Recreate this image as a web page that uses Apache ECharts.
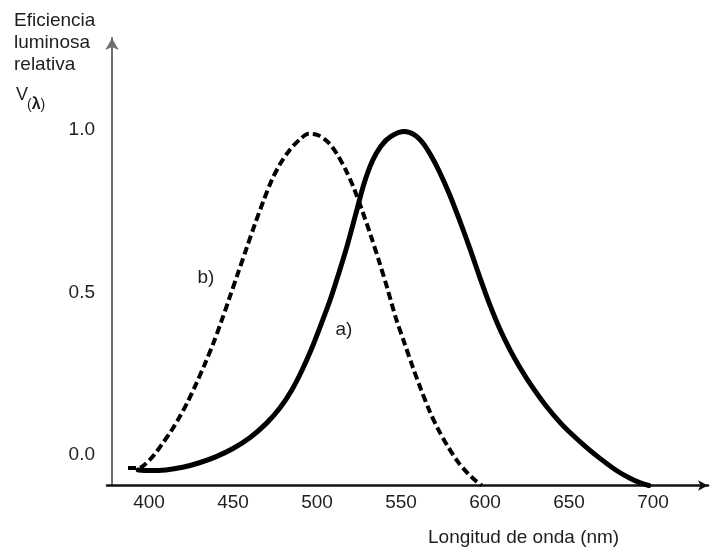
<!DOCTYPE html>
<html>
<head>
<meta charset="utf-8">
<script src="https://cdn.jsdelivr.net/npm/echarts@6/dist/echarts.min.js"></script>
<style>
html,body{margin:0;padding:0;background:#fff;}
#chart{width:715px;height:552px;}
</style>
</head>
<body>
<div id="chart"></div>
<script>
// curve a) photopic (solid): wavelength (nm) and relative luminous efficiency
var solidNm = [393.5, 400, 410, 420, 430, 440, 450, 460, 470, 478, 485, 491, 497, 503, 508, 513, 518, 523, 528, 533, 538, 544, 552, 558, 563, 568, 573, 579, 585, 591, 597, 603, 609, 615, 621, 628, 636, 645, 652, 660, 668, 678, 686, 692, 697.5];
var solidV  = [-0.046, -0.048, -0.046, -0.038, -0.024, -0.005, 0.020, 0.053, 0.098, 0.145, 0.200, 0.260, 0.330, 0.410, 0.480, 0.560, 0.645, 0.740, 0.835, 0.905, 0.950, 0.980, 0.995, 0.985, 0.960, 0.920, 0.870, 0.800, 0.720, 0.635, 0.545, 0.460, 0.385, 0.322, 0.267, 0.210, 0.153, 0.098, 0.062, 0.025, -0.009, -0.047, -0.071, -0.085, -0.094];
// curve b) scotopic (dashed)
var dashNm = [387.5, 394, 398, 403, 408, 413, 418, 423, 428, 433, 438, 443, 448, 453, 458, 463, 468, 473, 478, 484, 490, 495, 501, 507, 512, 517, 522, 527, 532, 537, 542, 547, 552, 557, 562, 567, 572, 578, 584, 590, 595, 598];
var dashV  = [-0.040, -0.040, -0.027, 0.000, 0.035, 0.072, 0.115, 0.163, 0.218, 0.277, 0.340, 0.410, 0.485, 0.560, 0.635, 0.710, 0.780, 0.845, 0.895, 0.940, 0.972, 0.988, 0.983, 0.960, 0.925, 0.878, 0.820, 0.750, 0.675, 0.595, 0.510, 0.420, 0.345, 0.270, 0.200, 0.135, 0.080, 0.025, -0.022, -0.058, -0.082, -0.094];
var xTicks = [400, 450, 500, 550, 600, 650, 700];
var yTicks = [0, 0.5, 1.0];
var labelA = {name: 'a)', nm: 516, v: 0.385};
var labelB = {name: 'b)', nm: 433.9, v: 0.545};

function pairs(xs, ys){ return xs.map(function(x,i){ return [x, ys[i]]; }); }

var FONT = '"Liberation Sans", Arial, sans-serif';
var TXT = '#1e1e1e';

var chart = echarts.init(document.getElementById('chart'), null, {renderer:'canvas'});
chart.setOption({
  backgroundColor: '#ffffff',
  animation: false,
  title: [
    {text: 'Eficiencia\nluminosa\nrelativa', left: 14, top: 10, padding: 0,
     textStyle: {fontFamily: FONT, fontSize: 19, fontWeight: 'normal', color: TXT, lineHeight: 22}},
    {text: 'V', left: 16, top: 86, padding: 0,
     textStyle: {fontFamily: FONT, fontSize: 18, fontWeight: 'normal', color: TXT}},
    {text: '({b|λ})', left: 27, top: 97, padding: 0,
     textStyle: {fontFamily: FONT, fontSize: 14, fontWeight: 'normal', color: TXT,
       rich: {b: {fontFamily: FONT, fontSize: 16, fontWeight: 'bold', color: TXT}}}},
    {text: 'Longitud de onda (nm)', left: 428, top: 528, padding: 0,
     textStyle: {fontFamily: FONT, fontSize: 19, fontWeight: 'normal', color: TXT}}
  ],
  grid: {left: 107, right: 7, top: 38, bottom: 66.5, containLabel: false},
  xAxis: {
    type: 'value', min: 375, max: 732.7,
    splitLine: {show: false},
    axisTick: {show: false},
    axisLine: {show: true, onZero: false, symbol: ['none', 'arrow'], symbolSize: [8, 10],
      lineStyle: {color: '#111', width: 2.5}},
    axisLabel: {customValues: xTicks, margin: 8, fontFamily: FONT, fontSize: 19, color: TXT,
      formatter: function(v){ return String(v); }}
  },
  yAxis: {
    type: 'value', min: -0.094, max: 1.283, offset: -5,
    splitLine: {show: false},
    axisTick: {show: false},
    axisLine: {show: true, onZero: false, symbol: ['none', 'arrow'], symbolSize: [10, 12],
      lineStyle: {color: '#6e6e6e', width: 2}},
    axisLabel: {customValues: yTicks, margin: 17, fontFamily: FONT, fontSize: 19, color: TXT,
      formatter: function(v){ return v.toFixed(1); }}
  },
  series: [
    {name: 'a)', type: 'line', data: pairs(solidNm, solidV), smooth: 0.3, showSymbol: false,
     lineStyle: {color: '#000', width: 5, type: 'solid', cap: 'round'},
     markPoint: {symbol: 'circle', symbolSize: 1, itemStyle: {color: 'rgba(0,0,0,0)'},
       label: {show: true, position: 'inside', formatter: '{b}', fontFamily: FONT, fontSize: 19, color: TXT},
       data: [{name: labelA.name, coord: [labelA.nm, labelA.v]}]}},
    {name: 'b)', type: 'line', data: pairs(dashNm, dashV), smooth: 0.3, showSymbol: false,
     lineStyle: {color: '#000', width: 4, type: [8, 4]},
     markPoint: {symbol: 'circle', symbolSize: 1, itemStyle: {color: 'rgba(0,0,0,0)'},
       label: {show: true, position: 'inside', formatter: '{b}', fontFamily: FONT, fontSize: 19, color: TXT},
       data: [{name: labelB.name, coord: [labelB.nm, labelB.v]}]}}
  ]
});
</script>
</body>
</html>
